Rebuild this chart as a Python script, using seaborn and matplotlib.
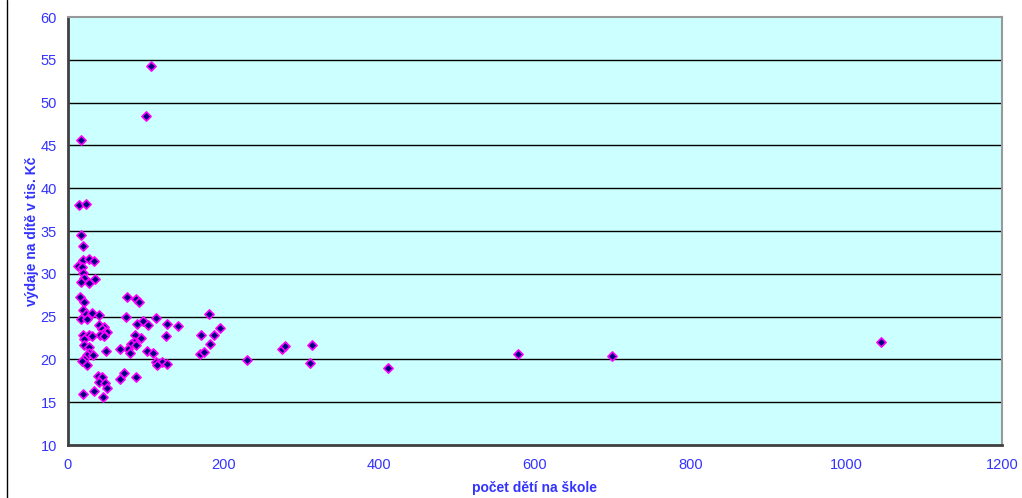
import matplotlib
matplotlib.use("Agg")
import matplotlib.pyplot as plt
from matplotlib.lines import Line2D
import seaborn as sns
import pandas as pd

# počet dětí na škole
pocet_deti = [
    14.5, 22.7, 16.3, 19.7, 18.9, 26.6, 33.8, 12.5, 18.0, 18.9,
    20.9, 34.3, 16.7, 26.6, 15.8, 20.9, 18.9, 75.4, 87.4, 91.6,
    23.1, 30.5, 39.8, 16.3, 24.8, 74.1, 88.3, 96.0, 102.4, 113.1,
    127.6, 140.9, 39.8, 46.3, 43.3, 47.5, 50.5, 45.4, 41.1, 46.6,
    18.9, 27.0, 30.8, 86.1, 93.8, 125.9, 20.2, 20.9, 27.4, 48.8,
    27.0, 24.0, 31.7, 84.8, 80.9, 87.8, 77.5, 67.2, 79.3, 101.1,
    109.6, 20.9, 18.0, 24.0, 113.5, 120.4, 127.2, 114.4, 38.2, 44.1,
    40.2, 47.2, 72.3, 66.8, 87.4, 49.7, 33.0, 45.0, 18.9, 180.8,
    170.9, 187.6, 195.3, 182.4, 170.0, 175.1, 229.6, 274.6, 278.8, 313.5,
    310.9, 411.5, 578.6, 698.6, 1044.6, 16.3, 106.6, 100.6,
]

# výdaje na dítě v tis. Kč
vydaje = [
    38.0, 38.2, 34.5, 33.3, 31.6, 31.7, 31.5, 30.9, 30.8, 30.1,
    29.5, 29.4, 29.1, 28.9, 27.3, 26.7, 25.8, 27.3, 27.1, 26.7,
    25.3, 25.4, 25.2, 24.7, 24.7, 25.0, 24.1, 24.5, 24.0, 24.8,
    24.1, 23.9, 24.0, 23.8, 23.6, 23.2, 23.2, 23.0, 22.8, 22.7,
    22.9, 22.8, 22.7, 22.8, 22.5, 22.7, 22.4, 21.7, 21.4, 21.0,
    20.8, 20.5, 20.5, 22.0, 21.8, 21.7, 21.2, 21.2, 20.8, 21.0,
    20.8, 20.1, 19.8, 19.3, 19.7, 19.7, 19.5, 19.4, 18.1, 17.9,
    17.4, 17.3, 18.4, 17.7, 17.9, 16.7, 16.3, 15.6, 15.9, 25.3,
    22.8, 22.9, 23.7, 21.8, 20.6, 20.9, 19.9, 21.2, 21.6, 21.7,
    19.6, 19.0, 20.6, 20.4, 22.0, 45.6, 54.3, 48.4,
]

x_ticks = [0, 200, 400, 600, 800, 1000, 1200]
y_ticks = [10, 15, 20, 25, 30, 35, 40, 45, 50, 55, 60]

df = pd.DataFrame({"pocet": pocet_deti, "vydaje": vydaje})

sns.set_style("white")
plt.rcParams["font.family"] = ["Liberation Sans", "DejaVu Sans"]

blue = "#3333FF"

fig = plt.figure(figsize=(10.22, 4.98), dpi=100)
ax = fig.add_axes([68 / 1022, 53 / 498, 934 / 1022, 428 / 498])
ax.set_facecolor("#CCFFFF")

for v in y_ticks[1:-1]:
    ax.axhline(v, color="black", linewidth=1, zorder=1)

sns.scatterplot(
    data=df, x="pocet", y="vydaje", ax=ax,
    marker="D", s=22, color="#000080", edgecolor="#FF00FF",
    linewidth=1.2, zorder=3,
)

ax.set_xlim(0, 1200)
ax.set_ylim(10, 60)
ax.set_xticks(x_ticks)
ax.set_yticks(y_ticks)
ax.tick_params(axis="both", direction="out", length=4, width=1,
               color="#333333", labelcolor=blue, labelsize=10.5)
ax.tick_params(axis="x", pad=5)
ax.tick_params(axis="y", pad=4)

for side in ["left", "bottom"]:
    ax.spines[side].set_color("#404040")
    ax.spines[side].set_linewidth(2)
for side in ["top", "right"]:
    ax.spines[side].set_color("#999999")
    ax.spines[side].set_linewidth(1.5)

ax.set_xlabel("počet dětí na škole", color=blue, fontsize=10,
              fontweight="bold", labelpad=7)
ax.set_ylabel("výdaje na dítě v tis. Kč", color=blue, fontsize=10,
              fontweight="bold", labelpad=1)
ax.grid(False)

# chart area border on the left
fig.add_artist(Line2D([7 / 1022, 7 / 1022], [0, 1], color="black",
                      linewidth=1, transform=fig.transFigure))

fig.savefig("out.png", dpi=100)
